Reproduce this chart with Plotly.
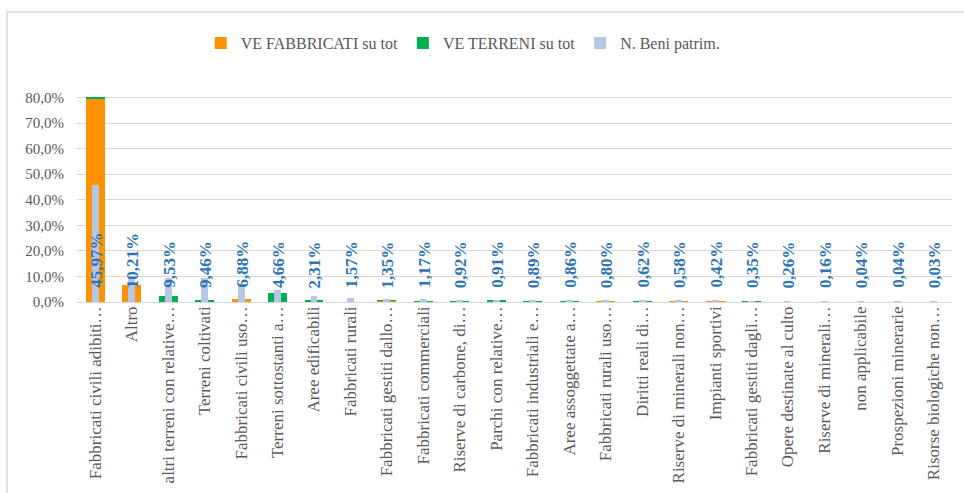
import plotly.graph_objects as go

categories = [
    "Fabbricati civili adibiti…", "Altro", "altri terreni con relative…",
    "Terreni coltivati", "Fabbricati civili uso…", "Terreni sottostanti a…",
    "Aree edificabili", "Fabbricati rurali", "Fabbricati gestiti dallo…",
    "Fabbricati commerciali", "Riserve di carbone, di…", "Parchi con relative…",
    "Fabbricati industriali e…", "Aree assoggettate a…", "Fabbricati rurali uso…",
    "Diritti reali di…", "Riserve di minerali non…", "Impianti sportivi",
    "Fabbricati gestiti dagli…", "Opere destinate al culto", "Riserve di minerali…",
    "non applicabile", "Prospezioni minerarie", "Risorse biologiche non…",
]

ve_fabbricati = [79.8, 6.6, 0.0, 0.0, 1.0, 0.0, 0.0, 0.0, 0.4, 0.1, 0.0, 0.0,
                 0.1, 0.0, 0.05, 0.2, 0.05, 0.2, 0.15, 0.0, 0.0, 0.0, 0.0, 0.0]
ve_terreni = [0.5, 0.0, 2.2, 0.5, 0.0, 3.5, 0.6, 0.0, 0.2, 0.05, 0.3, 0.8,
              0.05, 0.1, 0.0, 0.1, 0.0, 0.0, 0.1, 0.0, 0.0, 0.0, 0.0, 0.0]
n_beni = [45.97, 10.21, 9.53, 9.46, 6.88, 4.66, 2.31, 1.57, 1.35, 1.17, 0.92, 0.91,
          0.89, 0.86, 0.80, 0.62, 0.58, 0.42, 0.35, 0.26, 0.16, 0.04, 0.04, 0.03]

FONT = "'Liberation Serif', 'Times New Roman', Times, serif"
GREY = "#595959"

L, R, T, B = 77, 12, 96, 191
W, H = 964 - L - R, 493 - T - B

fig = go.Figure()
fig.add_trace(go.Bar(x=categories, y=ve_fabbricati, name="VE FABBRICATI su tot",
                     marker=dict(color="#FF9200", line=dict(width=0)), width=0.52))
fig.add_trace(go.Bar(x=categories, y=ve_terreni, base=ve_fabbricati, name="VE TERRENI su tot",
                     marker=dict(color="#00B050", line=dict(width=0)), width=0.52))
fig.add_trace(go.Bar(x=categories, y=n_beni, name="N. Beni patrim.",
                     marker=dict(color="#B4C7E7", line=dict(width=0)), width=0.19))

for c, v in zip(categories, n_beni):
    fig.add_annotation(x=c, y=0, xref="x", yref="y", text=f"{v:.2f}%".replace(".", ","),
                       textangle=-90, showarrow=False, yanchor="bottom", yshift=12, xshift=1,
                       font=dict(family=FONT, size=17, color="#2E75B6", weight="bold"))

# outer frame
fig.add_shape(type="rect", xref="paper", yref="paper",
              x0=(7 - L) / W, x1=(975 - L) / W, y0=(302 - 505) / H, y1=(302 - 12) / H,
              line=dict(color="#D9D9D9", width=1.5), fillcolor="rgba(0,0,0,0)", layer="below")

fig.update_layout(
    width=964, height=493,
    margin=dict(l=L, r=R, t=T, b=B, autoexpand=False),
    paper_bgcolor="white", plot_bgcolor="white",
    barmode="overlay", bargap=0,
    separators=",.",
    font=dict(family=FONT, color=GREY, size=13),
    showlegend=True,
    legend=dict(orientation="h", xref="container", yref="container", x=0.48, y=1 - 43 / 493,
                xanchor="center", yanchor="middle", font=dict(family=FONT, size=16, color=GREY),
                itemwidth=30, traceorder="normal"),
    xaxis=dict(type="category", tickangle=-90, showgrid=False, showline=False, ticks="",
               tickfont=dict(family=FONT, size=17, color=GREY), range=[-0.5, len(categories) - 0.5]),
    yaxis=dict(range=[0, 80.6], dtick=10, tick0=0, ticksuffix="%", tickformat=".1f",
               showgrid=True, gridcolor="#D9D9D9", gridwidth=1, zeroline=True,
               zerolinecolor="#D9D9D9", zerolinewidth=1, showline=False, ticks="",
               ticklabelstandoff=12,
               tickfont=dict(family=FONT, size=15, color=GREY)),
)

fig.write_html("out.html", config={"displayModeBar": False},
               post_script="document.body.style.margin='0px';")
